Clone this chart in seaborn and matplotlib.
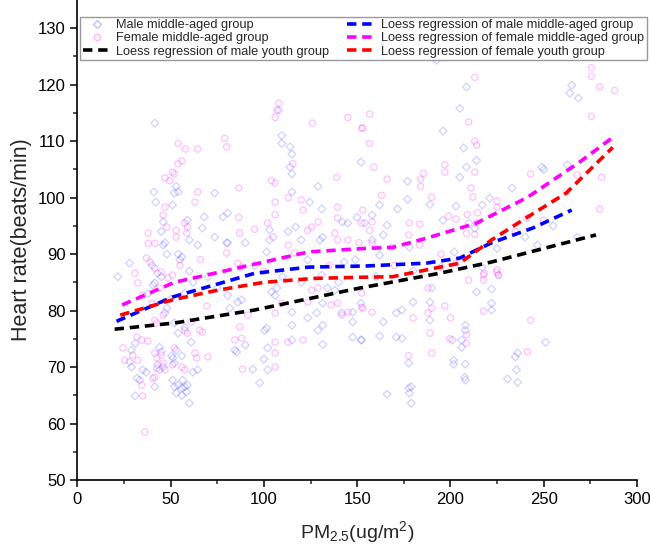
import numpy as np
import pandas as pd
import matplotlib
matplotlib.use("Agg")
import matplotlib.pyplot as plt
from matplotlib.lines import Line2D
import seaborn as sns

# scatter points (PM2.5, heart rate)
male_points = [
    (41.5, 113.2), (109.5, 111), (109.5, 109.6), (108, 115.5), (114, 109), (115, 107.7), (114, 105.4),
    (115, 104.2), (115, 101), (41, 101), (42, 99.2), (53, 102), (54, 101), (52, 100.8), (51, 98.7),
    (129, 102), (124.5, 99.2), (131, 98), (152, 106.3), (73.6, 100.8), (80.6, 97.3), (78, 96.6), (80, 92),
    (68, 96.6), (67, 94.6), (46, 91.6), (47, 92), (45, 94), (46, 95.7), (54, 90), (56, 89.5), (55, 89),
    (59, 96), (60, 92.5), (64.5, 91.6), (73.6, 93), (80.6, 92), (90, 92), (103, 94.3), (113, 94),
    (117, 94.8), (120, 92.5), (130, 92.5), (131.5, 93), (145, 95.5), (142, 95.7), (150, 96.5),
    (101.5, 90.4), (103, 92.5), (28, 88.4), (21.7, 86), (143, 88.6), (149, 89), (123.5, 89), (131, 86.3),
    (192.6, 124.3), (208.6, 119.6), (265, 119.9), (264, 118.5), (268.6, 117.6), (205, 115.8), (196, 111.8),
    (207, 108.8), (214, 106.6), (208.6, 105.4), (249, 105.4), (250, 105), (205, 103.6), (177, 102.9),
    (233, 101.7), (262.6, 105.8), (177, 99.7), (162, 98.7), (171.6, 98), (189, 98.8), (203, 98.5),
    (221, 99.9), (217, 98.7), (158, 96.9), (154, 95.5), (166, 95.1), (164, 93.4), (196, 96), (210, 95.5),
    (213, 94.6), (246.6, 91.6), (158, 92.5), (178, 91.2), (202, 90.4), (162, 89.8), (268, 93), (195, 87.7),
    (217, 87.7), (29, 73), (28, 70.9), (29, 70), (31, 74.2), (32, 68), (33.5, 67.7), (31, 64.9),
    (41.5, 66.5), (35, 69.5), (37, 69.1), (44, 73.5), (45, 72.7), (43, 70.4), (44, 69.5), (46, 70),
    (41.5, 84.9), (40.5, 84.5), (43, 86.6), (45, 86), (47, 79.6), (48, 80.4), (50.6, 72), (51.2, 71.6),
    (52, 70.7), (52, 66.5), (54, 66.8), (56, 66.3), (57.6, 66.5), (59, 66.8), (53, 65.4), (56, 65),
    (58.6, 65.6), (60, 63.6), (51, 67.7), (56.5, 67.7), (53, 73), (56, 72), (61, 74.4), (52, 77.8),
    (54, 76), (57.6, 77), (57.6, 83.1), (64.5, 69.5), (62, 69.1), (80.6, 82.7), (81.7, 80.4), (86, 81.5),
    (88, 81.9), (84.4, 73), (85.4, 72.7), (90, 73.9), (94, 69.6), (97.7, 67.2), (100.4, 76.5),
    (101.5, 76.9), (102, 73.4), (100, 71.4), (102, 69.5), (104, 83.3), (106, 82.7), (107, 84), (115, 79.7),
    (115, 77.4), (123.5, 78.7), (128.3, 79.6), (131.5, 81.3), (129, 76.5), (131.5, 77.4), (131.5, 74),
    (115, 74.8), (134, 84), (138, 83.6), (141.7, 79.6), (147.6, 79.7), (147.6, 78), (147.6, 75.3),
    (152.4, 74.8), (152, 81.3), (152, 74.8), (164, 78), (162, 75.5), (171, 79.6), (174, 80.1), (171, 75.3),
    (174, 75.1), (180, 81.5), (189, 81.5), (190, 84), (189, 78.3), (166, 65.2), (177.6, 66.3), (179, 66.5),
    (178, 65.4), (179, 63.6), (177.6, 70.7), (201.7, 71.2), (201.7, 70.5), (201, 74.8), (206, 74.8),
    (206, 73.5), (208, 77.4), (208, 76.5), (208, 70.5), (207.6, 68.2), (208, 67.7), (214, 83.3), (222, 83.8),
    (222, 81.3), (222, 80.1), (230.6, 67.9), (236, 67.3), (235.4, 69.5), (234.8, 71.8), (236, 72.5),
    (251, 74.4), (40, 88), (48, 90), (60, 87), (70, 86), (95, 88), (110, 86), (140, 85), (160, 86),
    (180, 87), (225, 91), (240, 93), (255, 95), (38, 83), (50, 82), (62, 85), (75, 84), (120, 85),
]

female_points = [
    (108, 116.7), (107, 115.5), (106, 114.2), (126, 113.2), (145, 114.2), (152.4, 112.3), (79, 110.5),
    (80, 109), (54, 109.6), (58, 108.6), (64.5, 108.6), (54, 106), (56, 106.5), (51, 104.5), (52, 104.2),
    (47, 103.5), (49.5, 103), (64.5, 101), (63, 99.2), (86.5, 101.7), (104, 103), (106, 102.6),
    (139, 103.6), (113, 100), (115.5, 106), (106, 99.2), (106, 97), (120, 99.6), (121, 97.8), (139.5, 98.3),
    (139.5, 96.4), (145, 92.5), (153, 97.8), (152.4, 95.5), (47, 98.3), (46, 96.9), (48, 94.8), (38, 93.7),
    (38, 91.9), (41.5, 91.9), (57.6, 95.5), (59, 94.8), (58.6, 93.7), (53, 94.2), (53, 93), (86.5, 96.5),
    (87, 93.7), (95, 94.4), (102, 95.5), (105, 93), (123.5, 94.2), (125.6, 94.8), (129, 95.7), (138, 93.7),
    (139.5, 92.5), (37, 89.3), (39, 88.6), (41.5, 87.5), (80, 90.2), (86, 88.4), (88, 87.7), (113, 91.6),
    (116.5, 90.2), (275.6, 123), (275.6, 121.5), (280, 119.6), (288, 119), (213, 121.3), (275.6, 114.4),
    (156.7, 114.8), (153, 112.3), (156.7, 109.6), (209.7, 113.4), (213, 110), (214, 109.3), (197, 105.8),
    (197, 104.5), (159, 105.4), (213, 104.5), (185.6, 104.3), (184, 103.3), (184, 102), (166, 103.3),
    (243, 104.2), (281, 103.6), (163, 100.4), (190, 100.1), (211, 101.7), (212, 100.1), (225, 99.4),
    (225, 98.3), (158, 95.7), (156.7, 94.2), (178, 95.5), (183.5, 95.3), (199, 96.7), (203, 96.2),
    (209, 97), (214.5, 97.3), (214, 95.5), (208.6, 93.7), (213, 93.5), (241, 96.4), (280, 98),
    (177.6, 93.4), (268, 104), (151, 92), (158, 92), (168.5, 91.2), (183.5, 91.6), (218, 86.6),
    (225, 87.2), (225.6, 86.3), (203, 88.4), (152.4, 83.1), (153, 80.4), (158, 79.7), (180, 78.7),
    (177.6, 72), (188, 84), (188, 79.6), (189, 76), (190, 72.5), (190, 80.4), (197, 80.8), (200, 78.7),
    (199.6, 75), (208.6, 75.7), (208.6, 74.2), (209.7, 85.4), (217.7, 86.3), (217.7, 85.4), (217.7, 79.9),
    (224.7, 86.8), (225.8, 86.3), (243, 78.3), (241.3, 72.7), (24.4, 73.4), (25.4, 71.2), (29.7, 72.1),
    (35, 64.9), (36.2, 58.5), (32, 75.3), (34.5, 74.8), (37.8, 74.6), (32.4, 71.2), (34.5, 66.8),
    (41.5, 72.5), (42.6, 71.6), (45, 72.1), (46, 70.7), (40.5, 68), (41.5, 68.2), (47, 69.5), (42.6, 69.8),
    (41.5, 78.3), (42.6, 77.8), (46, 79.2), (30.8, 86.6), (32.4, 84.9), (35, 82.7), (40, 81.3), (45, 86.8),
    (48.5, 85.8), (51, 86.3), (52, 73.4), (51, 70.4), (56, 70), (57.6, 69.5), (57.6, 76.5), (59, 76),
    (61, 78), (63, 72.5), (64, 71.6), (67, 76.2), (65.6, 76.5), (70, 71.8), (69.4, 80.8), (84.4, 74.8),
    (88, 75.1), (87, 77.1), (88.6, 69.6), (91.4, 79.2), (106, 74.4), (106, 72.5), (106, 70), (112.8, 74.4),
    (121, 74.8), (129, 84), (136, 81), (139.5, 81.3), (141.7, 79.2), (145, 79.7), (152.4, 80.6),
    (106, 79.6), (109.5, 81.3), (123.5, 81.5), (125.6, 83.6), (44, 84), (55, 88), (66, 89), (100, 87),
    (135, 88), (170, 88), (195, 90), (235, 94), (250, 96), (262, 101),
]

# loess curves
male_youth_x = [20, 52, 95, 150, 194, 222, 250, 278]
male_youth_y = [76.7, 77.8, 80.1, 83.9, 86.6, 88.6, 91.0, 93.4]
male_mid_x = [21, 51, 95, 124, 155, 187, 205, 222, 244, 265]
male_mid_y = [78.1, 82.4, 86.6, 87.7, 87.9, 88.4, 89.3, 92.0, 94.6, 97.8]
female_mid_x = [24, 52, 88, 124, 154, 169, 187, 214, 241, 268, 288]
female_mid_y = [81.0, 85.0, 87.7, 90.4, 91.0, 91.2, 92.8, 95.5, 100.0, 106.0, 110.9]
female_youth_x = [23, 51, 75, 100, 127, 152, 169, 205, 222, 241, 262, 287]
female_youth_y = [79.2, 81.9, 83.6, 85.0, 85.7, 85.9, 86.0, 88.4, 92.5, 96.5, 100.8, 108.9]

sns.set_style("ticks")
plt.rcParams['font.family'] = ['Liberation Sans', 'DejaVu Sans']
plt.rcParams['mathtext.fontset'] = 'custom'
plt.rcParams['mathtext.rm'] = 'Liberation Sans'
plt.rcParams['mathtext.it'] = 'Liberation Sans'

male_df = pd.DataFrame(male_points, columns=["pm", "hr"])
female_df = pd.DataFrame(female_points, columns=["pm", "hr"])

fig = plt.figure(figsize=(6.5, 5.47), dpi=100)
ax = fig.add_axes([0.119, 0.1225, 0.861, 0.8775])

sns.scatterplot(data=male_df, x="pm", y="hr", marker="D", s=16, facecolors="none",
                edgecolors="#3030ff", linewidth=0.9, alpha=0.22, ax=ax, legend=False)
sns.scatterplot(data=female_df, x="pm", y="hr", marker="o", s=20, facecolors="none",
                edgecolors="#ff30ff", linewidth=0.9, alpha=0.3, ax=ax, legend=False)

dash = (2.6, 1.6)
curves = [
    (male_youth_x, male_youth_y, "black"),
    (male_mid_x, male_mid_y, "blue"),
    (female_mid_x, female_mid_y, "magenta"),
    (female_youth_x, female_youth_y, "red"),
]
for cx, cy, col in curves:
    sns.lineplot(x=cx, y=cy, color=col, lw=2.6, ax=ax)
    ax.lines[-1].set_dashes(dash)

ax.set_xlim(0, 300)
ax.set_ylim(50, 135)
ax.set_xticks(np.arange(0, 301, 50))
ax.set_xticks(np.arange(25, 300, 50), minor=True)
ax.set_yticks(np.arange(50, 131, 10))
ax.set_yticks(np.arange(55, 131, 10), minor=True)
ax.tick_params(which="major", direction="out", length=5, width=1.1, labelsize=12, colors="black")
ax.tick_params(which="minor", direction="out", length=3, width=1.1)
sns.despine(ax=ax)
for sp in ["left", "bottom"]:
    ax.spines[sp].set_linewidth(1.2)
    ax.spines[sp].set_color("black")

ax.set_xlabel("PM$_{2.5}$(ug/m$^2$)", fontsize=14, labelpad=9)
ax.set_ylabel("Heart rate(beats/min)", fontsize=15.5, labelpad=4)

handles = [
    Line2D([], [], marker="D", ls="none", ms=4, mfc="none", mec="#3030ff", alpha=0.3),
    Line2D([], [], marker="o", ls="none", ms=4.5, mfc="none", mec="#ff30ff", alpha=0.35),
    Line2D([], [], color="black", lw=2.6, dashes=dash),
    Line2D([], [], color="blue", lw=2.6, dashes=dash),
    Line2D([], [], color="magenta", lw=2.6, dashes=dash),
    Line2D([], [], color="red", lw=2.6, dashes=dash),
]
labels = [
    "Male middle-aged group",
    "Female middle-aged group",
    "Loess regression of male youth group",
    "Loess regression of male middle-aged group",
    "Loess regression of female middle-aged group",
    "Loess regression of female youth group",
]
leg = fig.legend(handles, labels, ncol=2, loc="lower left", mode="expand",
                 bbox_to_anchor=(0.123, 0.89, 0.872, 0.088), bbox_transform=fig.transFigure,
                 fontsize=9.2, frameon=True, fancybox=False, borderaxespad=0,
                 handlelength=2.3, handletextpad=0.35, labelspacing=0.1, borderpad=0.2,
                 columnspacing=1.0)
leg.get_frame().set_edgecolor("#808080")
leg.get_frame().set_linewidth(1.0)

fig.savefig("out.png", dpi=100)
